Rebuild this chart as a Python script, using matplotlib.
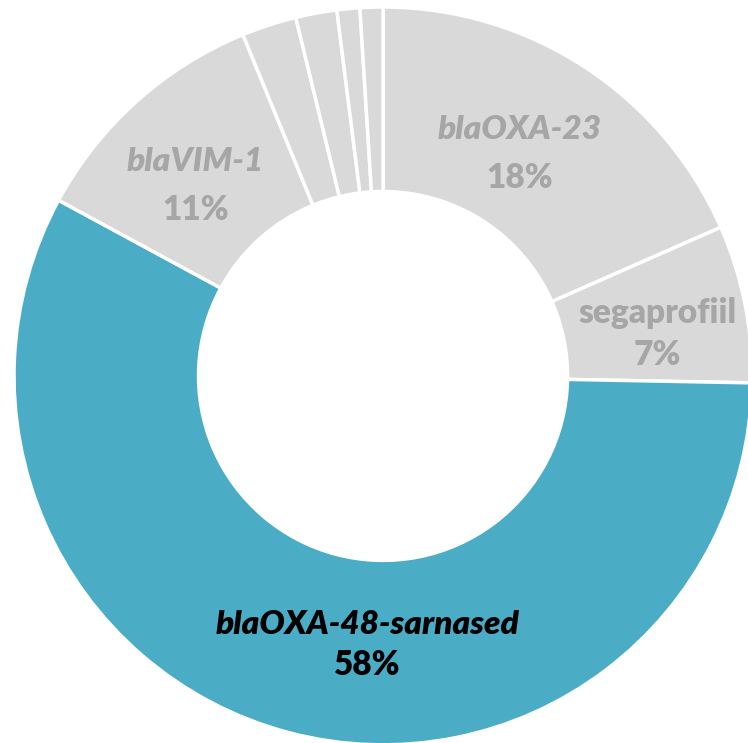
import matplotlib.pyplot as plt

# slices clockwise from 12 o'clock
labels = ['blaOXA-23', 'segaprofiil', 'blaOXA-48-sarnased', 'blaVIM-1', '', '', '', '']
shares = [18.4, 6.9, 57.6, 10.9, 2.4, 1.8, 1.0, 1.0]
shown_pct = ['18%', '7%', '58%', '11%', '', '', '', '']

grey = '#D9D9D9'
teal = '#4BACC6'
colors = [grey, grey, teal, grey, grey, grey, grey, grey]
text_colors = ['#A6A6A6', '#A6A6A6', 'black', '#A6A6A6']
italic = [True, False, True, True]
label_pos = [(0.371, 0.602), (0.743, 0.114), (-0.043, -0.729), (-0.509, 0.515)]
half_gap = [0.065, 0.057, 0.054, 0.065]

plt.rcParams['font.family'] = ['Lato', 'DejaVu Sans']

fig = plt.figure(figsize=(7.48, 7.43), dpi=100)
ax = fig.add_axes([0, 0, 1, 1])
ax.pie(shares, colors=colors, startangle=90, counterclock=False, radius=1.0,
       wedgeprops=dict(width=0.5, edgecolor='white', linewidth=2.5))
ax.set_aspect('auto')
ax.set_xlim(-1.038, 0.989)
ax.set_ylim(-0.995, 1.019)
ax.axis('off')

for i in range(4):
    x, y = label_pos[i]
    ax.text(x, y + half_gap[i], labels[i], ha='center', va='center', fontsize=24,
            fontweight='heavy', style='italic' if italic[i] else 'normal',
            color=text_colors[i])
    ax.text(x, y - half_gap[i], shown_pct[i], ha='center', va='center', fontsize=24,
            fontweight='heavy', color=text_colors[i])

fig.savefig('out.png', dpi=100)
